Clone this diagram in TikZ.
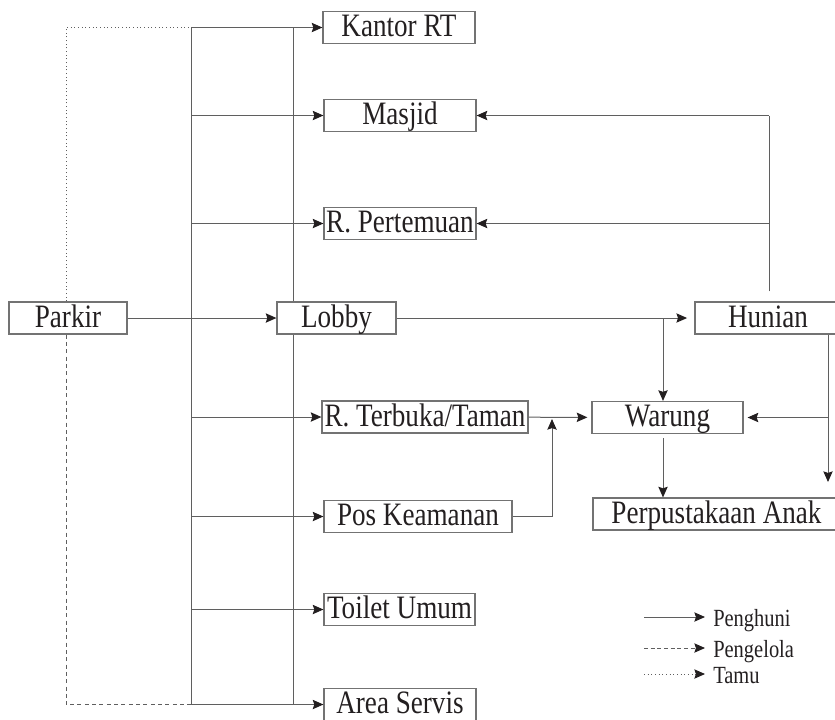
\documentclass[tikz,border=0pt]{standalone}
\usepackage{fontspec}
\setmainfont{Liberation Serif}[FakeStretch=0.83]
\usetikzlibrary{arrows.meta}
\definecolor{ln}{RGB}{95,95,95}
\definecolor{bx}{RGB}{115,115,115}
\definecolor{tx}{RGB}{35,31,32}
\begin{document}
\begin{tikzpicture}[x=0.75pt,y=-0.75pt,
  box/.style={draw=bx, line width=0.9pt, text=tx, inner sep=0pt,
    text height=18.5pt, text depth=5pt, minimum height=24pt,
    font=\fontsize{24.5}{28}\selectfont},
  legtext/.style={text=tx, inner sep=0pt, font=\fontsize{18.5}{21}\selectfont},
  conn/.style={draw=ln, line width=0.75pt},
  arr/.style={conn, -{Stealth[length=8pt,width=7pt,inset=1.2pt,color=tx]}},
]
\useasboundingbox (0,0) rectangle (835,719);
\clip (0,0) rectangle (835,719);

% boxes
\node[box, minimum width=114pt] (kantor) at (399,27.5) {Kantor RT};
\node[box, minimum width=114pt] (masjid) at (400,115.5) {Masjid};
\node[box, minimum width=114pt] (pertemuan) at (400,223.5) {R. Pertemuan};
\node[box, minimum width=88.5pt] (parkir) at (68,318) {Parkir};
\node[box, minimum width=89.25pt] (lobby) at (336.5,318) {Lobby};
\node[box, minimum width=109.5pt] (hunian) at (768,318) {Hunian};
\node[box, minimum width=154.5pt] (terbuka) at (425,417) {R. Terbuka/Taman};
\node[box, minimum width=141pt] (pos) at (418,516.5) {Pos Keamanan};
\node[box, minimum width=113.25pt] (toilet) at (399.5,609.5) {Toilet Umum};
\node[box, minimum width=114pt] (servis) at (400,704.5) {Area Servis};
\node[box, minimum width=113.25pt] (warung) at (667.5,417.5) {Warung};
\node[box, minimum width=185.25pt] (perpus) at (716.5,514) {Perpustakaan Anak};

% trunk lines
\coordinate (vlT) at (191,27.5);
\coordinate (vlB) at (191,704.5);
\coordinate (vrT) at (293,27.5);
\coordinate (vrB) at (293,704.5);
\draw[conn] (vlT) -- (vlB);
\draw[conn] (vrT) -- (lobby.north -| vrT);
\draw[conn] (lobby.south -| vrB) -- (vrB);

% horizontal branches
\draw[arr] (vlT) -- (kantor.west);
\draw[arr] (masjid.west -| vlT) -- (masjid.west);
\draw[arr] (pertemuan.west -| vlT) -- (pertemuan.west);
\draw[arr] (terbuka.west -| vlT) -- (terbuka.west);
\draw[arr] (pos.west -| vlT) -- (pos.west);
\draw[arr] (toilet.west -| vlT) -- (toilet.west);
\draw[arr] (vlB) -- (servis.west);
\draw[arr] (parkir) -- (lobby);

% Parkir visitor / manager lines
\coordinate (pdT) at (66,27.5);
\coordinate (pdB) at (66,704.5);
\draw[conn, dotted] (parkir.north -| pdT) -- (pdT) -- (vlT);
\draw[conn, dash pattern=on 3pt off 2.5pt] (parkir.south -| pdB) -- (pdB) -- (vlB);

% Lobby to Hunian and Warung
\draw[arr, shorten >=5.5pt] (lobby) -- (hunian);
\coordinate (bw) at (663,318);
\draw[arr] (bw) -- (bw |- warung.north);

% Hunian up to Masjid / R. Pertemuan
\coordinate (hu) at (769,115.5);
\draw[conn, shorten <=7.5pt] (hunian.north -| hu) -- (hu);
\draw[arr] (hu) -- (masjid.east);
\draw[arr] (pertemuan.east -| hu) -- (pertemuan.east);

% Hunian right side
\coordinate (hr) at (828,482);
\draw[arr] (hunian.south -| hr) -- (hr);
\draw[arr, shorten >=3pt] (warung.east -| hr) -- (warung.east);

% Terbuka / Pos to Warung
\draw[arr, shorten >=3pt] (terbuka) -- (warung);
\coordinate (pu) at (552,417);
\draw[arr, shorten >=1.5pt] (pos.east) -| (pu);

% Warung to Perpustakaan
\draw[arr, shorten <=3pt] (bw |- warung.south) -- (bw |- perpus.north);

% legend
\node[legtext, anchor=base west] (lg1) at (713,626) {Penghuni};
\node[legtext, anchor=base west] (lg2) at (713,657) {Pengelola};
\node[legtext, anchor=base west] (lg3) at (713,683) {Tamu};
\coordinate (ls1) at (644,617);
\coordinate (ls2) at (644,648);
\coordinate (ls3) at (644,674);
\draw[arr, shorten >=6pt] (ls1) -- (ls1 -| lg1.west);
\draw[arr, dash pattern=on 3pt off 2pt, shorten >=6pt] (ls2) -- (ls2 -| lg2.west);
\draw[arr, dotted, shorten >=6pt] (ls3) -- (ls3 -| lg3.west);
\end{tikzpicture}
\end{document}
